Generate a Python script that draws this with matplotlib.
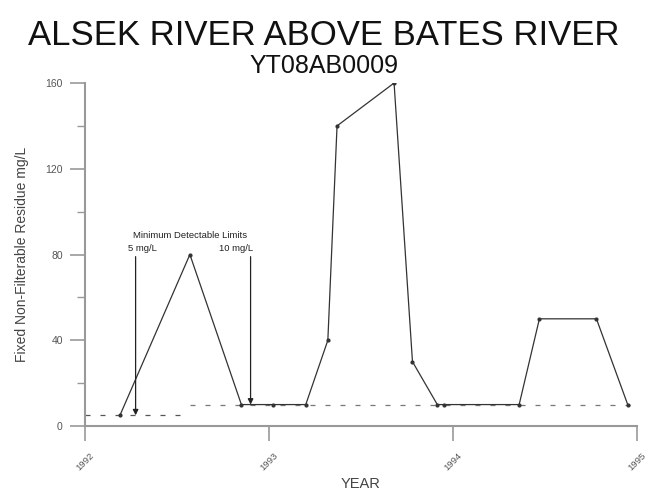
import matplotlib
matplotlib.use('Agg')
import matplotlib.pyplot as plt
from matplotlib.ticker import MultipleLocator

plt.rcParams['font.family'] = ['Liberation Sans', 'DejaVu Sans']

# sample dates (decimal year) and residue values (mg/L)
years = [1992.19, 1992.57, 1992.85, 1993.02, 1993.20, 1993.32, 1993.37,
         1993.68, 1993.78, 1993.915, 1993.95, 1994.36, 1994.47, 1994.78, 1994.95]
residue = [5, 80, 10, 10, 10, 40, 140, 160, 30, 10, 10, 10, 50, 50, 10]

# detection limits: (start, end, value)
limit_low = (1992.0, 1992.55, 5)
limit_high = (1992.57, 1994.97, 10)
arrow_x = [1992.275, 1992.90]
arrow_y = [5, 10]

fig = plt.figure(figsize=(6.47, 4.93), dpi=100)
ax = fig.add_axes([0.1314, 0.1359, 0.853, 0.6957])

ax.plot(years, residue, '-', color='#333333', linewidth=0.9,
        marker='o', markersize=2, zorder=3)
ax.plot(limit_low[:2], [limit_low[2]] * 2, '--', color='#555555',
        linewidth=0.9, dashes=(4, 8))
ax.plot(limit_high[:2], [limit_high[2]] * 2, '--', color='#777777',
        linewidth=0.9, dashes=(4, 8))

for xa, ya in zip(arrow_x, arrow_y):
    ax.annotate('', xy=(xa, ya), xytext=(xa, 79),
                arrowprops=dict(arrowstyle='-|>', color='#222222', lw=0.9,
                                mutation_scale=8, shrinkA=0, shrinkB=0))

ax.text(1992.57, 88.8, 'Minimum Detectable Limits', fontsize=6.8,
        ha='center', va='center', color='#222222')
ax.text(1992.234, 82.7, '5 mg/L', fontsize=6.8, ha='left', va='center',
        color='#222222')
ax.text(1992.913, 82.7, '10 mg/L', fontsize=6.8, ha='right', va='center',
        color='#222222')

ax.set_xlim(1992, 1995)
ax.set_ylim(0, 160)
ax.set_xticks([1992, 1993, 1994, 1995])
ax.set_xticklabels(['1992', '1993', '1994', '1995'], rotation=45,
                   fontsize=6.8, color='#555555')
ax.yaxis.set_major_locator(MultipleLocator(40))
ax.yaxis.set_minor_locator(MultipleLocator(20))
ax.tick_params(axis='y', labelsize=7.5, labelcolor='#555555', color='#999999',
               length=11, width=1.2, direction='out', pad=5)
ax.tick_params(axis='y', which='minor', length=5.5, width=1.0, color='#999999')
ax.tick_params(axis='x', length=11, width=1.2, color='#999999', pad=7)

for s in ['top', 'right']:
    ax.spines[s].set_visible(False)
for s in ['left', 'bottom']:
    ax.spines[s].set_color('#999999')
    ax.spines[s].set_linewidth(1.5)

ax.set_xlabel('YEAR', fontsize=10.5, color='#444444', labelpad=3)
ax.set_ylabel('Fixed Non-Filterable Residue mg/L', fontsize=10,
              color='#444444', labelpad=12)

fig.text(0.5, 0.9087, 'ALSEK RIVER ABOVE BATES RIVER', fontsize=25,
         ha='center', va='baseline', color='#111111')
fig.text(0.5, 0.852, 'YT08AB0009', fontsize=18, ha='center', va='baseline',
         color='#111111')

fig.savefig('out.png', dpi=100)
